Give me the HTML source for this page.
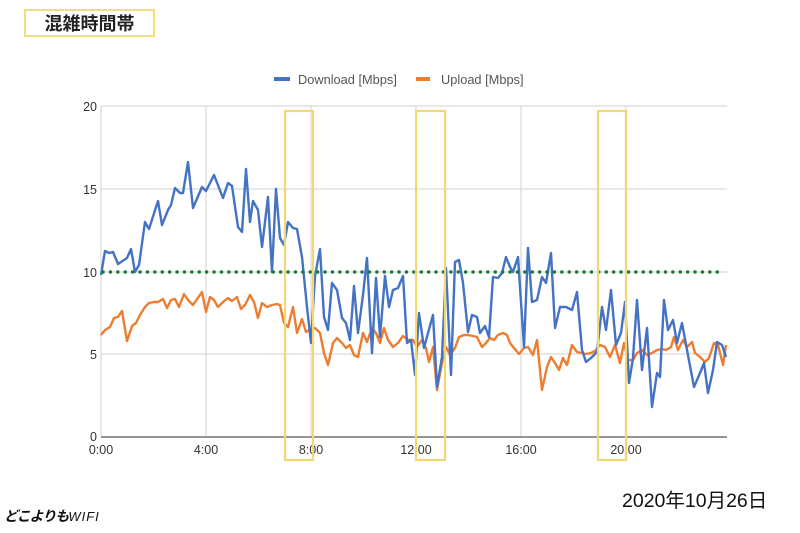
<!DOCTYPE html>
<html><head><meta charset="utf-8"><style>
html,body{margin:0;padding:0;background:#fff;}
body{width:800px;height:533px;position:relative;overflow:hidden;font-family:"Liberation Sans","Noto Sans CJK JP",sans-serif;}
.title{position:absolute;left:24px;top:9px;width:127px;height:24px;border:2px solid #f4dd7e;font-weight:bold;font-size:18px;line-height:24px;text-align:center;color:#222;font-family:"Noto Sans CJK JP","Liberation Sans",sans-serif;}
.date{position:absolute;left:622px;top:484px;font-size:19.5px;color:#111;font-family:"Liberation Sans","Noto Sans CJK JP",sans-serif;}
.logo{position:absolute;left:4px;top:506px;font-size:14px;font-weight:bold;font-style:italic;color:#111;font-family:"Noto Sans CJK JP",sans-serif;letter-spacing:-1px;}
.logo span{font-weight:normal;font-family:"Liberation Sans",sans-serif;font-size:13px;letter-spacing:1px;}
</style></head><body>
<div class="title">混雑時間帯</div>
<svg width="800" height="533" style="position:absolute;left:0;top:0" xmlns="http://www.w3.org/2000/svg">
<g stroke="#d9d9d9" stroke-width="1.2">
<line x1="101" y1="106" x2="727" y2="106"/>
<line x1="101" y1="189" x2="727" y2="189"/>
<line x1="101" y1="272" x2="727" y2="272"/>
<line x1="101" y1="354" x2="727" y2="354"/>
<line x1="101" y1="106" x2="101" y2="437"/>
<line x1="206" y1="106" x2="206" y2="437"/>
<line x1="311" y1="106" x2="311" y2="437"/>
<line x1="416" y1="106" x2="416" y2="437"/>
<line x1="521" y1="106" x2="521" y2="437"/>
<line x1="626" y1="106" x2="626" y2="437"/>
</g>
<line x1="101" y1="437" x2="727" y2="437" stroke="#555" stroke-width="1.3"/>
<g font-family="Liberation Sans, sans-serif" font-size="12.5" fill="#333" text-anchor="end">
<text x="97" y="111">20</text>
<text x="97" y="194">15</text>
<text x="97" y="277">10</text>
<text x="97" y="359">5</text>
<text x="97" y="441">0</text>
</g>
<g font-family="Liberation Sans, sans-serif" font-size="12.5" fill="#333" text-anchor="middle">
<text x="101" y="454">0:00</text>
<text x="206" y="454">4:00</text>
<text x="311" y="454">8:00</text>
<text x="416" y="454">12:00</text>
<text x="521" y="454">16:00</text>
<text x="626" y="454">20:00</text>
</g>
<rect x="274" y="77" width="16" height="4" fill="#4472c4"/>
<text x="298" y="84" font-family="Liberation Sans, sans-serif" font-size="12.8" fill="#555">Download [Mbps]</text>
<rect x="416" y="77" width="14" height="4" fill="#ed7d31"/>
<text x="441" y="84" font-family="Liberation Sans, sans-serif" font-size="12.8" fill="#555">Upload [Mbps]</text>
<polyline fill="none" stroke="#ed7d31" stroke-width="2.4" stroke-linejoin="round" points="101,335 105,330 110,327 114,318 118,317 122,311 127,341 132,326 136,323 140,315 145,307 149,303 154,302 158,302 163,299 167,308 171,300 175,299 179,307 184,294 188,300 193,305 202,292 206,312 210,297 214,300 218,307 223,302 228,298 232,301 237,297 241,309 245,305 250,295 254,302 258,318 262,303 267,307 272,305 277,304 280,305 284,323 288,327 293,307 297,333 302,319 306,332 311,329 315,328 320,333 324,353 328,365 333,343 337,338 342,343 346,348 350,345 354,355 358,357 363,333 367,342 372,328 376,333 380,343 384,328 388,340 393,347 398,343 403,336 408,340 413,340 417,347 422,340 426,348 429,362 433,347 437,390 442,363 446,347 450,355 455,348 459,337 464,335 468,335 473,336 477,337 482,347 486,343 490,338 494,340 498,335 503,333 507,335 510,343 514,348 519,354 524,348 528,347 533,355 537,340 542,390 547,367 551,357 555,363 559,370 563,358 567,365 572,345 577,352 582,353 586,354 591,353 595,351 600,345 605,347 610,357 615,345 620,363 624,343 628,360 633,360 637,353 642,350 647,355 652,353 657,350 662,349 666,350 671,347 674,337 678,350 683,340 687,347 692,342 695,353 700,357 705,362 709,358 714,343 718,345 723,365 726,345"/>
<polyline fill="none" stroke="#4472c4" stroke-width="2.4" stroke-linejoin="round" points="101,275 105,251 109,253 113,252 118,264 127,258 131,249 135,272 139,265 145,222 149,229 158,201 162,225 168,210 171,205 175,188 180,193 183,193 188,162 193,208 202,187 206,191 214,175 223,198 228,183 232,186 238,227 242,232 246,169 250,222 253,201 258,210 262,247 268,197 272,272 276,189 280,238 284,245 288,222 293,228 297,229 302,257 307,307 311,343 315,276 320,249 324,317 328,330 332,283 337,290 342,318 346,323 350,340 354,286 358,333 363,295 367,258 372,353 376,278 380,337 385,276 389,307 393,290 398,288 403,276 407,343 411,340 415,375 419,313 424,348 428,333 433,315 437,387 442,357 446,268 451,375 455,262 459,260 463,283 468,332 472,315 477,317 480,333 485,326 489,337 493,277 498,278 502,273 506,257 510,267 513,272 518,257 524,347 528,248 532,302 537,300 542,277 546,283 551,253 555,328 560,307 566,307 572,310 577,292 582,350 586,362 591,358 597,352 602,307 606,330 611,290 616,345 621,333 625,302 629,383 633,358 637,300 642,370 647,328 652,407 657,373 660,377 664,300 668,330 673,320 677,343 682,323 687,350 694,387 700,373 704,363 708,393 713,370 717,342 722,345 726,357"/>
<line x1="103" y1="272" x2="724" y2="272" stroke="#1a7a3c" stroke-width="3.4" stroke-linecap="round" stroke-dasharray="0.1 7.3"/>
<g fill="none" stroke="#f3d872" stroke-width="2.2">
<rect x="285" y="111" width="28" height="349"/>
<rect x="416" y="111" width="29" height="349"/>
<rect x="598" y="111" width="28" height="349"/>
</g>
</svg>
<div class="date">2020年10月26日</div>
<div class="logo">どこよりも<span>WIFI</span></div>
</body></html>
